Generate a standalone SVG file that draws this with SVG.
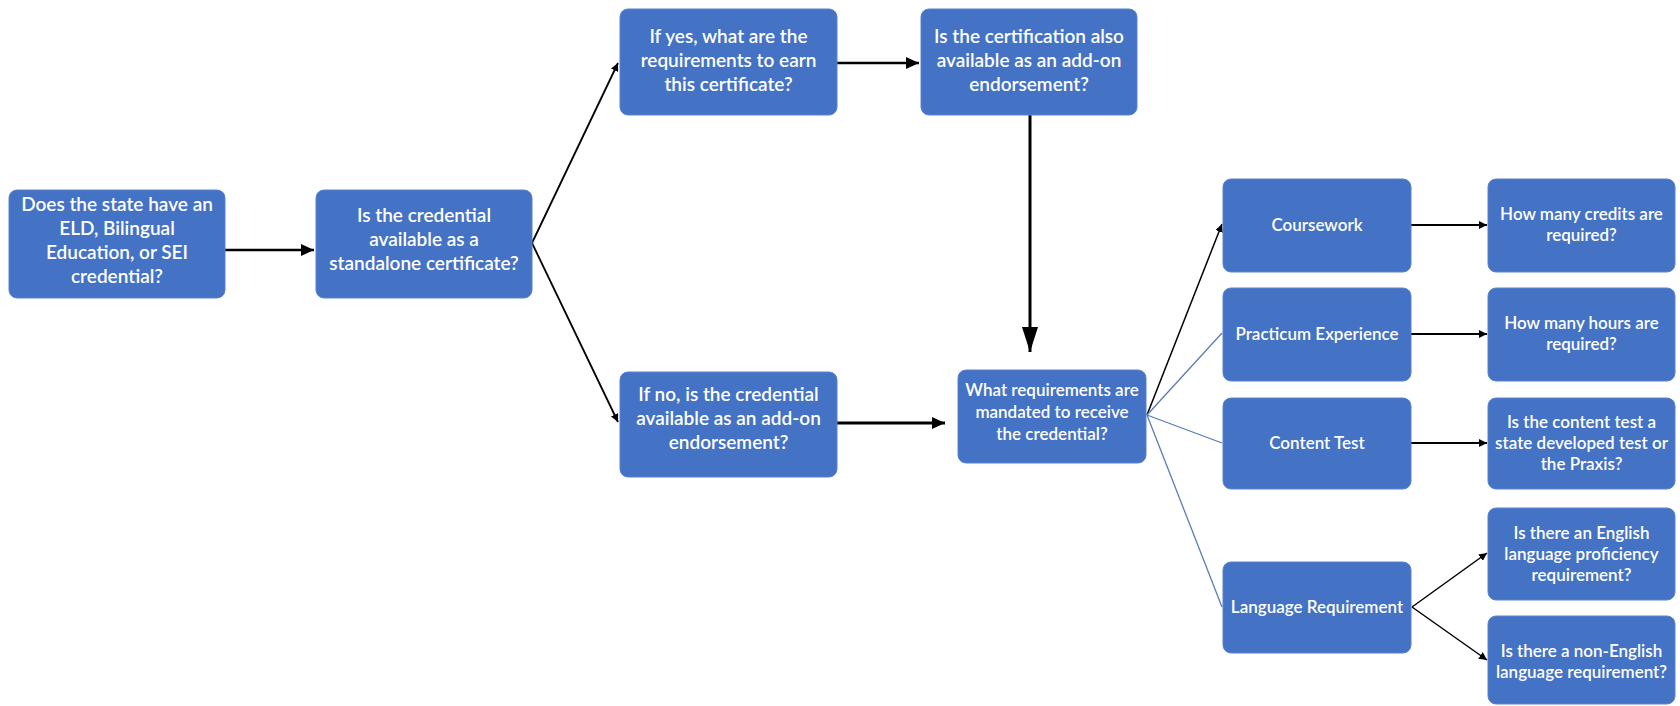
<svg xmlns="http://www.w3.org/2000/svg" width="1680" height="706" viewBox="0 0 1680 706">
<defs>
<style>
.box{fill:#4472C4;stroke:#5b82cc;stroke-width:1}
.t{font-family:Lato,"Open Sans","Liberation Sans",sans-serif;fill:#ffffff;text-anchor:middle;font-weight:600}
.big{font-size:19px}
.sm{font-size:17px}
.k{stroke:#000;fill:none}
.b{stroke:#5a7bb8;stroke-width:1.3;fill:none}
</style>
<marker id="ah" markerUnits="userSpaceOnUse" markerWidth="14" markerHeight="12" refX="13" refY="6" orient="auto"><path d="M0,0 L13,6 L0,12 Z" fill="#000"/></marker>
<marker id="ahL" markerUnits="userSpaceOnUse" markerWidth="26" markerHeight="16" refX="25" refY="8" orient="auto"><path d="M0,0 L25,8 L0,16 Z" fill="#000"/></marker>
<marker id="ahS" markerUnits="userSpaceOnUse" markerWidth="9" markerHeight="8" refX="8" refY="4" orient="auto"><path d="M0,0 L8,4 L0,8 Z" fill="#000"/></marker>
</defs>
<rect width="1680" height="706" fill="#ffffff"/>
<g id="connectors">
<line class="k" x1="224" y1="250" x2="314" y2="250" stroke-width="2.5" marker-end="url(#ah)"/>
<line class="k" x1="532" y1="243" x2="618" y2="63" stroke-width="1.8" marker-end="url(#ahS)"/>
<line class="k" x1="532" y1="243" x2="618" y2="422" stroke-width="1.8" marker-end="url(#ahS)"/>
<line class="k" x1="837" y1="63" x2="919" y2="63" stroke-width="2.5" marker-end="url(#ah)"/>
<line class="k" x1="1030" y1="115" x2="1030" y2="352" stroke-width="3" marker-end="url(#ahL)"/>
<line class="k" x1="837" y1="423" x2="945" y2="423" stroke-width="3" marker-end="url(#ah)"/>
<line class="k" x1="1147" y1="415" x2="1222" y2="224" stroke-width="1.5" marker-end="url(#ahS)"/>
<line class="b" x1="1147" y1="415" x2="1222" y2="333"/>
<line class="b" x1="1147" y1="415" x2="1222" y2="443"/>
<line class="b" x1="1147" y1="415" x2="1222" y2="607"/>
<line class="k" x1="1411" y1="225" x2="1487" y2="225" stroke-width="2" marker-end="url(#ahS)"/>
<line class="k" x1="1411" y1="334" x2="1487" y2="334" stroke-width="2" marker-end="url(#ahS)"/>
<line class="k" x1="1411" y1="443" x2="1487" y2="443" stroke-width="2" marker-end="url(#ahS)"/>
<line class="k" x1="1412" y1="607" x2="1487" y2="553" stroke-width="1.5" marker-end="url(#ahS)"/>
<line class="k" x1="1412" y1="607" x2="1487" y2="660" stroke-width="1.5" marker-end="url(#ahS)"/>
</g>
<g id="n1"><rect class="box" x="9" y="190" width="216" height="108" rx="8"/>
<text class="t big"><tspan x="117" y="211">Does the state have an</tspan><tspan x="117" y="235">ELD, Bilingual</tspan><tspan x="117" y="259">Education, or SEI</tspan><tspan x="117" y="283">credential?</tspan></text></g>
<g id="n2"><rect class="box" x="316" y="190" width="216" height="108" rx="8"/>
<text class="t big"><tspan x="424" y="222">Is the credential</tspan><tspan x="424" y="246">available as a</tspan><tspan x="424" y="270">standalone certificate?</tspan></text></g>
<g id="n3"><rect class="box" x="620" y="9" width="217" height="106" rx="8"/>
<text class="t big"><tspan x="728.5" y="43">If yes, what are the</tspan><tspan x="728.5" y="67">requirements to earn</tspan><tspan x="728.5" y="91">this certificate?</tspan></text></g>
<g id="n4"><rect class="box" x="921" y="9" width="216" height="106" rx="8"/>
<text class="t big"><tspan x="1029" y="43">Is the certification also</tspan><tspan x="1029" y="67">available as an add-on</tspan><tspan x="1029" y="91">endorsement?</tspan></text></g>
<g id="n5"><rect class="box" x="620" y="372" width="217" height="105" rx="8"/>
<text class="t big"><tspan x="728.5" y="401">If no, is the credential</tspan><tspan x="728.5" y="425">available as an add-on</tspan><tspan x="728.5" y="449">endorsement?</tspan></text></g>
<g id="n6"><rect class="box" x="958" y="370" width="188" height="93" rx="8"/>
<text class="t sm"><tspan x="1052" y="396">What requirements are</tspan><tspan x="1052" y="418">mandated to receive</tspan><tspan x="1052" y="440">the credential?</tspan></text></g>
<g id="n7"><rect class="box" x="1223" y="179" width="188" height="93" rx="8"/>
<text class="t sm"><tspan x="1317" y="231">Coursework</tspan></text></g>
<g id="n8"><rect class="box" x="1223" y="288" width="188" height="93" rx="8"/>
<text class="t sm"><tspan x="1317" y="340">Practicum Experience</tspan></text></g>
<g id="n9"><rect class="box" x="1223" y="398" width="188" height="91" rx="8"/>
<text class="t sm"><tspan x="1317" y="449">Content Test</tspan></text></g>
<g id="n10"><rect class="box" x="1223" y="562" width="188" height="91" rx="8"/>
<text class="t sm"><tspan x="1317" y="613">Language Requirement</tspan></text></g>
<g id="n11"><rect class="box" x="1488" y="179" width="187" height="93" rx="8"/>
<text class="t sm"><tspan x="1581.5" y="220">How many credits are</tspan><tspan x="1581.5" y="241">required?</tspan></text></g>
<g id="n12"><rect class="box" x="1488" y="288" width="187" height="93" rx="8"/>
<text class="t sm"><tspan x="1581.5" y="329">How many hours are</tspan><tspan x="1581.5" y="350">required?</tspan></text></g>
<g id="n13"><rect class="box" x="1488" y="398" width="187" height="91" rx="8"/>
<text class="t sm"><tspan x="1581.5" y="428">Is the content test a</tspan><tspan x="1581.5" y="449">state developed test or</tspan><tspan x="1581.5" y="470">the Praxis?</tspan></text></g>
<g id="n14"><rect class="box" x="1488" y="508" width="187" height="92" rx="8"/>
<text class="t sm"><tspan x="1581.5" y="539">Is there an English</tspan><tspan x="1581.5" y="560">language proficiency</tspan><tspan x="1581.5" y="581">requirement?</tspan></text></g>
<g id="n15"><rect class="box" x="1488" y="616" width="187" height="88" rx="8"/>
<text class="t sm"><tspan x="1581.5" y="657">Is there a non-English</tspan><tspan x="1581.5" y="678">language requirement?</tspan></text></g>
</svg>
